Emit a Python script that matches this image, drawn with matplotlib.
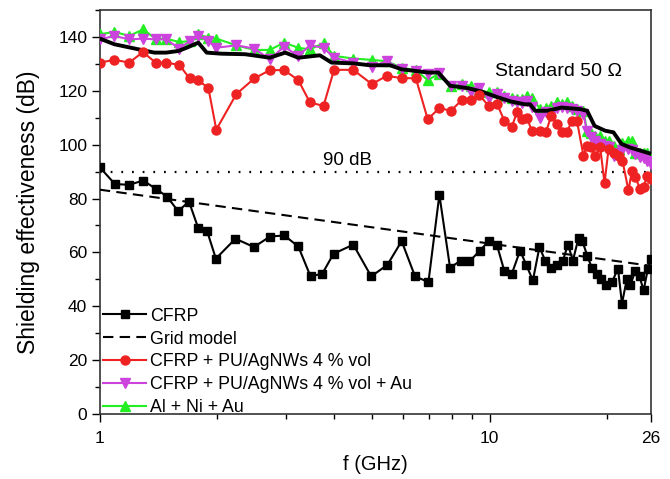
import matplotlib
matplotlib.use("Agg")
import matplotlib.pyplot as plt
from matplotlib.ticker import FixedLocator, FixedFormatter, NullFormatter
from matplotlib.lines import Line2D

plt.rcParams['font.family'] = ['Liberation Sans', 'DejaVu Sans']

# ---- data ----
f_cfrp = [1.00, 1.093, 1.189, 1.292, 1.393, 1.489, 1.588, 1.693, 1.788, 1.886, 1.985,
          2.229, 2.486, 2.733, 2.974, 3.231, 3.473, 3.723, 3.978, 4.472, 4.97, 5.47,
          5.95, 6.44, 6.97, 7.435, 7.92, 8.44, 8.88, 9.46, 9.94, 10.44, 10.92, 11.41,
          11.98, 12.42, 12.92, 13.43, 13.89, 14.39, 14.89, 15.43, 15.89, 16.37, 16.92,
          17.32, 17.84, 18.31, 18.86, 19.35, 19.93, 20.62, 21.36, 21.87, 22.52, 22.96,
          23.65, 24.26, 24.85, 25.50, 26.0]
se_cfrp = [91.6, 85.4, 85.1, 86.7, 83.6, 80.7, 75.3, 78.9, 69.1, 67.8, 57.7,
           65.1, 62.0, 65.9, 66.3, 62.2, 51.1, 52.1, 59.5, 62.9, 51.1, 55.4,
           64.2, 51.1, 49.0, 81.4, 54.3, 57.0, 56.7, 60.7, 64.2, 62.9, 53.0, 52.1,
           60.7, 55.4, 49.6, 62.0, 57.0, 54.3, 55.4, 57.0, 62.9, 57.0, 65.4,
           64.1, 58.5, 54.3, 52.1, 50.3, 47.8, 49.0, 54.0, 41.0, 50.3, 47.8,
           53.0, 51.1, 45.9, 54.0, 57.7]

f_grid = [1.0, 26.0]
se_grid = [83.3, 55.0]

f_coat = [1.00, 1.09, 1.19, 1.29, 1.39, 1.48, 1.60, 1.70, 1.79, 1.90, 1.99, 2.24,
          2.49, 2.73, 2.97, 3.23, 3.46, 3.75, 3.99, 4.47, 4.99, 5.45, 5.95, 6.47,
          6.94, 7.44, 7.96, 8.49, 8.95, 9.42, 9.94, 10.44, 10.92, 11.41, 11.76, 12.11,
          12.47, 12.84, 13.49, 13.95, 14.40, 14.89, 15.33, 15.79, 16.27, 16.76, 17.42,
          17.78, 18.24, 18.67, 19.23, 19.73, 20.20, 20.81, 21.43, 21.93, 22.73, 23.20,
          23.65, 24.36, 24.85, 25.35, 26.0]
se_agnw = [130.5, 131.5, 130.5, 134.4, 130.5, 130.5, 129.6, 124.6, 124.0, 120.9, 105.6, 118.8,
           124.6, 127.7, 127.7, 124.0, 115.7, 114.4, 127.8, 127.8, 122.5, 125.6, 124.7, 124.7,
           109.5, 113.6, 112.6, 116.6, 116.6, 118.5, 114.4, 115.3, 108.9, 106.7, 112.0, 109.5,
           110.0, 105.2, 105.2, 104.6, 110.7, 107.7, 104.6, 104.6, 108.9, 108.9, 95.9,
           99.6, 99.0, 95.9, 99.0, 85.7, 98.4, 97.1, 95.9, 94.1, 83.0, 90.4,
           87.9, 83.6, 84.2, 88.5, 87.4]
se_agnw_au = [139.1, 140.4, 139.1, 139.4, 139.1, 139.1, 135.7, 138.5, 140.4, 138.5, 136.0, 136.9,
              135.7, 131.7, 136.4, 133.0, 136.9, 136.0, 132.3, 130.5, 129.0, 131.0, 128.0, 127.4,
              126.4, 126.8, 121.9, 121.9, 119.4, 121.2, 117.5, 118.8, 117.3, 116.3, 116.0, 115.5,
              116.3, 114.0, 110.1, 112.0, 111.4, 113.5, 114.0, 113.5, 113.2, 112.5, 111.4,
              105.0, 102.7, 101.5, 100.3, 99.6, 99.0, 95.9, 97.0, 98.0, 98.4, 98.0,
              96.5, 95.5, 95.0, 94.0, 92.8]
se_alniau = [141.0, 141.9, 140.4, 142.8, 139.4, 139.4, 138.1, 138.5, 141.0, 139.7, 139.4, 136.9,
             135.2, 135.2, 137.9, 136.0, 135.4, 137.7, 133.0, 132.0, 131.5, 131.0, 128.6, 127.7,
             124.0, 126.4, 121.9, 122.5, 121.9, 120.3, 119.4, 119.4, 118.1, 117.3, 116.9, 116.9,
             118.1, 117.5, 113.2, 113.8, 114.5, 115.7, 115.0, 115.7, 114.4, 113.2, 112.6,
             105.2, 104.5, 103.3, 103.3, 101.5, 101.5, 99.6, 98.4, 100.5, 101.5, 101.5,
             97.1, 97.1, 97.1, 97.1, 94.7]

f_std = [1.00, 1.09, 1.23, 1.38, 1.48, 1.59, 1.67, 1.79, 1.88, 2.05, 2.36, 2.47, 2.73,
         2.99, 3.23, 3.67, 3.93, 4.47, 4.94, 5.55, 5.95, 6.44, 6.97, 7.39, 7.92, 8.81,
         9.56, 10.55, 11.38, 12.33, 12.71, 13.1, 14.1, 15.3, 17.1, 17.8, 18.6, 19.8,
         20.8, 21.8, 22.9, 24.4, 26.0]
se_std = [139.4, 137.3, 135.7, 134.2, 134.2, 134.8, 136.0, 137.9, 134.2, 133.8, 133.6, 133.2, 132.3,
          134.2, 132.3, 133.2, 130.5, 130.2, 129.5, 129.5, 128.0, 127.4, 126.8, 126.8, 121.9, 121.0,
          119.7, 117.5, 116.0, 115.0, 115.0, 112.6, 112.6, 113.8, 113.2, 112.6, 107.0, 105.2,
          104.6, 100.3, 99.0, 97.8, 96.6]

ref_level = 90

x_major = [1, 10, 26]
x_major_labels = ['1', '10', '26']
x_minor = [2, 3, 4, 5, 6, 7, 8, 9, 20]
y_major = [0, 20, 40, 60, 80, 100, 120, 140]
y_minor = [10, 30, 50, 70, 90, 110, 130, 150]

labels = ['CFRP', 'Grid model', 'CFRP + PU/AgNWs 4 % vol',
          'CFRP + PU/AgNWs 4 % vol + Au', 'Al + Ni + Au']

# ---- figure ----
fig = plt.figure(figsize=(6.7, 4.79), dpi=100)
ax = fig.add_axes([0.149, 0.1357, 0.823, 0.8433])

red = '#ee2222'
mag = '#cc44dd'
grn = '#22ee22'

ax.plot(f_coat, se_alniau, '-', color=grn, marker='^', ms=7, lw=1.5, zorder=3)
ax.plot(f_coat, se_agnw_au, '-', color=mag, marker='v', ms=7, lw=1.5, zorder=3)
ax.plot(f_std, se_std, '-', color='black', lw=2.8, zorder=4)
ax.plot(f_coat, se_agnw, '-', color=red, marker='o', ms=6.5, lw=1.5, zorder=5)
ax.plot(f_cfrp, se_cfrp, '-', color='black', marker='s', ms=5.2, lw=1.5, zorder=5)
ax.plot(f_grid, se_grid, color='black', lw=1.5, linestyle=(0, (5, 3)), zorder=4)
ax.plot([f_cfrp[0], f_cfrp[-1]], [ref_level, ref_level], color='black', lw=1.6,
        linestyle=(0, (0.8, 4)), zorder=2)

ax.set_xscale('log')
ax.set_xlim(1, 26)
ax.set_ylim(0, 150)

ax.xaxis.set_major_locator(FixedLocator(x_major))
ax.xaxis.set_major_formatter(FixedFormatter(x_major_labels))
ax.xaxis.set_minor_locator(FixedLocator(x_minor))
ax.xaxis.set_minor_formatter(NullFormatter())
ax.yaxis.set_major_locator(FixedLocator(y_major))
ax.yaxis.set_minor_locator(FixedLocator(y_minor))

ax.tick_params(which='major', direction='out', length=6, width=1, labelsize=12.5)
ax.tick_params(axis='x', which='major', pad=6)
ax.tick_params(axis='y', which='major', pad=3)
ax.tick_params(which='minor', direction='out', length=3.5, width=1)
for s in ax.spines.values():
    s.set_linewidth(1.2)
    s.set_color('#333333')

ax.set_xlabel('f (GHz)', fontsize=14.5, labelpad=7)
ax.set_ylabel('Shielding effectiveness (dB)', fontsize=16.5, labelpad=13)

ax.text(4.33, 94, '90 dB', fontsize=13.5, ha='center', va='center')
ax.text(10.3, 127, 'Standard 50 \u03a9', fontsize=14, ha='left', va='center')

handles = [
    Line2D([], [], color='black', marker='s', ms=5.2, lw=1.5),
    Line2D([], [], color='black', lw=1.5, linestyle=(0, (5, 3))),
    Line2D([], [], color=red, marker='o', ms=6.5, lw=1.5),
    Line2D([], [], color=mag, marker='v', ms=7, lw=1.5),
    Line2D([], [], color=grn, marker='^', ms=7, lw=1.5),
]
leg = ax.legend(handles, labels, loc='upper left', bbox_to_anchor=(0.0, 0.272),
                frameon=False, fontsize=12.8, handlelength=2.4, handletextpad=0.25,
                labelspacing=0.33, borderpad=0.2, borderaxespad=0.0, numpoints=1)

fig.savefig('out.png', dpi=100)
